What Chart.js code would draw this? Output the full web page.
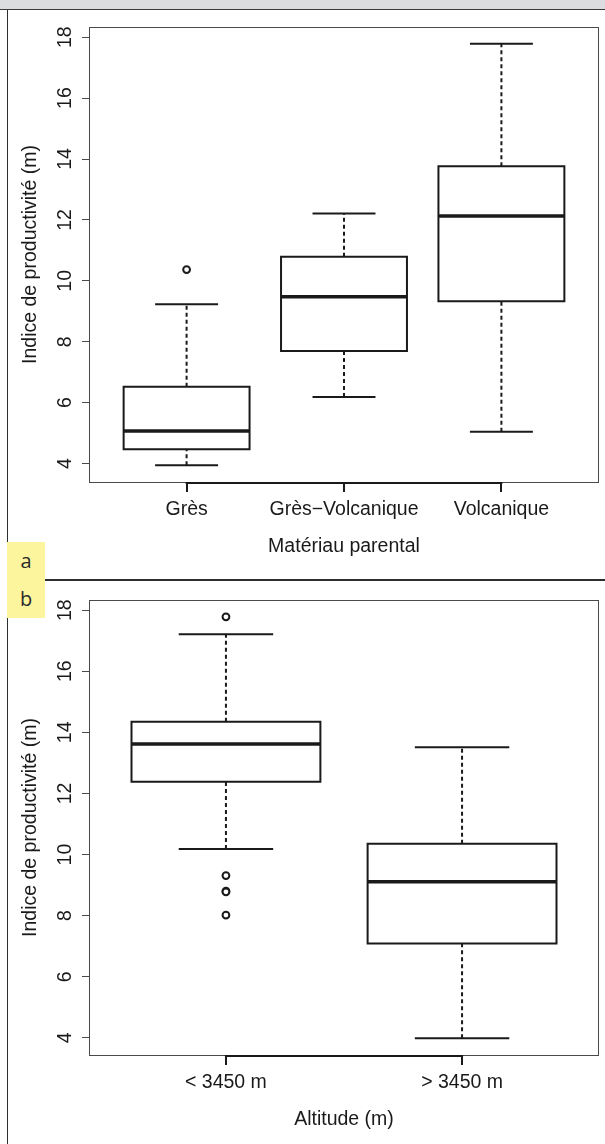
<!DOCTYPE html>
<html lang="fr">
<head>
<meta charset="utf-8">
<title>Indice de productivité</title>
<script src="https://cdn.jsdelivr.net/npm/chart.js@4/dist/chart.umd.min.js"></script>
<style>
    html, body { margin: 0; padding: 0; background: #fff; }
    body { position: relative; width: 605px; height: 1144px; overflow: hidden; }
    .topbar { position: absolute; left: 0; top: 0; width: 605px; height: 9px; background: #dcdddf; border-bottom: 1px solid #3a3a3a; }
    .leftrule { position: absolute; left: 7px; top: 10px; width: 1px; height: 1134px; background: #2e2e2e; }
    .separator { position: absolute; left: 45px; top: 579px; width: 560px; height: 2px; background: #2e2e2e; }
    .panel { position: absolute; left: 8px; }
    .tag { position: absolute; left: 7px; top: 542px; width: 38px; height: 76px; background: #fdf49e; z-index: 2;
           font-family: 'Open Sans', 'Noto Sans', sans-serif; font-size: 20px; color: #2b2b2b; }
    .tag span { position: absolute; left: 0; width: 38px; text-align: center; line-height: 20px; }
</style>
</head>
<body>
<div class="topbar"></div>
<div class="leftrule"></div>
<canvas id="panel-a" class="panel" style="top:11px" width="597" height="569"></canvas>
<canvas id="panel-b" class="panel" style="top:584px" width="597" height="569"></canvas>
<div class="separator"></div>
<div class="tag"><span style="top:9px">a</span><span style="top:47px">b</span></div>

<script>
    // panel a : matériau parental
    var parentCategories = ['Grès', 'Grès\u2212Volcanique', 'Volcanique'];
    var parentLower = [3.95, 6.19, 5.05];
    var parentQ1 = [4.47, 7.70, 9.33];
    var parentMedian = [5.07, 9.48, 12.13];
    var parentQ3 = [6.52, 10.79, 13.76];
    var parentUpper = [9.23, 12.21, 17.78];
    var parentOutliers = [[10.37], [], []];

    // panel b : altitude
    var altitudeCategories = ['< 3450 m', '> 3450 m'];
    var altitudeLower = [10.18, 3.99];
    var altitudeQ1 = [12.38, 7.09];
    var altitudeMedian = [13.62, 9.11];
    var altitudeQ3 = [14.35, 10.35];
    var altitudeUpper = [17.21, 13.51];
    var altitudeOutliers = [[17.78, 9.31, 8.80, 8.78, 8.02], []];

    var yTicks = [4, 6, 8, 10, 12, 14, 16, 18];
    var yTitle = 'Indice de productivité (m)';

    var INK = '#1a1a1a';
    var FRAME = '#4a4a4a';
    var FONT_SIZE = 19.5;

    Chart.defaults.font.family = "'Liberation Sans', Arial, sans-serif";
    Chart.defaults.font.size = FONT_SIZE;
    Chart.defaults.color = INK;

    function segment(data, width, dash, capStyle) {
        return {
            data: data,
            showLine: true,
            borderColor: INK,
            borderWidth: width,
            borderDash: dash || [],
            borderCapStyle: capStyle || 'butt',
            borderJoinStyle: 'miter',
            pointRadius: 0,
            tension: 0,
            clip: false,
        };
    }

    function buildDatasets(lower, q1, median, q3, upper, outliers) {
        var sets = [];
        var outlierPoints = [];
        var half = 0.4;
        var cap = 0.2;

        median.forEach(function (med, i) {
            var x = i + 1;
            sets.push(segment([{ x: x, y: q3[i] }, { x: x, y: upper[i] }], 2, [4, 3]));
            sets.push(segment([{ x: x, y: lower[i] }, { x: x, y: q1[i] }], 2, [4, 3]));
            sets.push(segment([{ x: x - cap, y: upper[i] }, { x: x + cap, y: upper[i] }], 2));
            sets.push(segment([{ x: x - cap, y: lower[i] }, { x: x + cap, y: lower[i] }], 2));
            sets.push(
                segment(
                    [
                        { x: x - half, y: q1[i] },
                        { x: x + half, y: q1[i] },
                        { x: x + half, y: q3[i] },
                        { x: x - half, y: q3[i] },
                        { x: x - half, y: q1[i] },
                    ],
                    2,
                    null,
                    'square'
                )
            );
            sets.push(segment([{ x: x - half, y: med }, { x: x + half, y: med }], 3.5));
            outliers[i].forEach(function (v) {
                outlierPoints.push({ x: x, y: v });
            });
        });

        sets.push({
            data: outlierPoints,
            showLine: false,
            pointStyle: 'circle',
            pointRadius: 3.4,
            pointBorderWidth: 2,
            pointBorderColor: INK,
            pointBackgroundColor: '#fff',
        });
        return sets;
    }

    // cadre du graphique + axe des x épais entre le premier et le dernier groupe
    var framePlugin = {
        id: 'rFrame',
        afterDraw: function (chart) {
            var ctx = chart.ctx;
            var area = chart.chartArea;
            var xs = chart.scales.x;
            var n = xs.ticks.length;
            ctx.save();
            ctx.strokeStyle = FRAME;
            ctx.lineWidth = 1;
            ctx.strokeRect(area.left + 0.5, area.top + 0.5, area.right - area.left - 1, area.bottom - area.top);
            ctx.strokeStyle = INK;
            ctx.lineWidth = 2;
            ctx.beginPath();
            ctx.moveTo(xs.getPixelForValue(xs.ticks[0].value) - 1, area.bottom + 1);
            ctx.lineTo(xs.getPixelForValue(xs.ticks[n - 1].value) + 1, area.bottom + 1);
            ctx.stroke();
            ctx.restore();
        },
    };

    function buildPanel(canvasId, categories, lower, q1, median, q3, upper, outliers, xTitle) {
        var n = categories.length;
        var values = lower.concat(upper);
        outliers.forEach(function (o) {
            values = values.concat(o);
        });
        var lo = Math.min.apply(null, values);
        var hi = Math.max.apply(null, values);
        var ext = (hi - lo) * 0.04;

        return new Chart(document.getElementById(canvasId), {
            type: 'scatter',
            data: { datasets: buildDatasets(lower, q1, median, q3, upper, outliers) },
            options: {
                responsive: false,
                animation: false,
                devicePixelRatio: 1,
                events: [],
                layout: { padding: { left: 0, top: 16, right: 6, bottom: 0 } },
                plugins: { legend: { display: false }, tooltip: { enabled: false } },
                scales: {
                    x: {
                        type: 'linear',
                        position: 'bottom',
                        min: 0.5 - 0.04 * n,
                        max: n + 0.5 + 0.04 * n,
                        afterBuildTicks: function (scale) {
                            scale.ticks = categories.map(function (c, i) {
                                return { value: i + 1 };
                            });
                        },
                        afterFit: function (scale) {
                            scale.height = 98;
                            scale.paddingLeft = 0;
                            scale.paddingRight = 0;
                        },
                        ticks: {
                            autoSkip: false,
                            minRotation: 0,
                            maxRotation: 0,
                            padding: 6,
                            color: INK,
                            callback: function (value) {
                                return categories[Math.round(value) - 1];
                            },
                        },
                        grid: {
                            display: true,
                            drawOnChartArea: false,
                            drawTicks: true,
                            tickLength: 10,
                            lineWidth: 2,
                            color: INK,
                        },
                        border: { display: false },
                        title: {
                            display: true,
                            text: xTitle,
                            color: INK,
                            padding: { top: 0, bottom: 22 },
                        },
                    },
                    y: {
                        type: 'linear',
                        position: 'left',
                        min: lo - ext,
                        max: hi + ext,
                        afterBuildTicks: function (scale) {
                            scale.ticks = yTicks.map(function (v) {
                                return { value: v };
                            });
                        },
                        afterFit: function (scale) {
                            scale.width = 81;
                            scale.paddingTop = 0;
                            scale.paddingBottom = 0;
                        },
                        ticks: {
                            autoSkip: false,
                            minRotation: 90,
                            maxRotation: 90,
                            crossAlign: 'center',
                            padding: 6,
                            color: INK,
                        },
                        grid: {
                            display: true,
                            drawOnChartArea: false,
                            drawTicks: true,
                            tickLength: 7,
                            lineWidth: 1,
                            color: FRAME,
                        },
                        border: { display: false },
                        title: {
                            display: true,
                            text: yTitle,
                            color: INK,
                            padding: { top: 11, bottom: 0 },
                        },
                    },
                },
            },
            plugins: [framePlugin],
        });
    }

    buildPanel('panel-a', parentCategories, parentLower, parentQ1, parentMedian, parentQ3, parentUpper, parentOutliers,
        'Matériau parental');
    buildPanel('panel-b', altitudeCategories, altitudeLower, altitudeQ1, altitudeMedian, altitudeQ3, altitudeUpper,
        altitudeOutliers, 'Altitude (m)');
</script>
</body>
</html>
